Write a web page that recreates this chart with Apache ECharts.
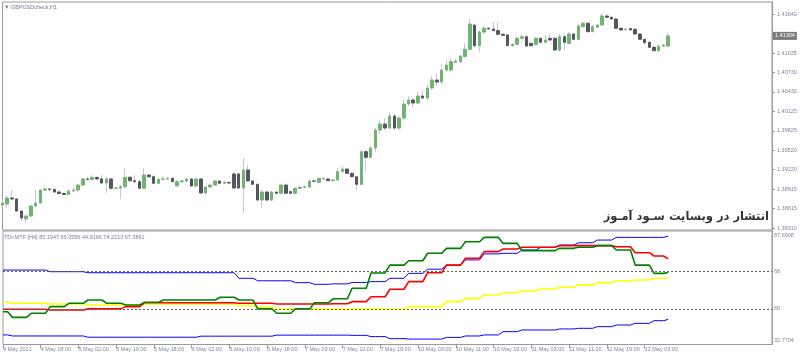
<!DOCTYPE html>
<html><head><meta charset="utf-8">
<script src="https://cdn.jsdelivr.net/npm/echarts@6/dist/echarts.min.js"></script>
<style>html,body{margin:0;padding:0;background:#fff}#c{width:800px;height:356px}</style>
</head><body><div id="c"></div>
<script>
// ---- price candles (H1) ----
const opens = [1.38668,1.38684,1.38778,1.38762,1.38575,1.38451,1.38497,1.38653,1.38700,1.38902,
1.38918,1.38910,1.38871,1.38848,1.38832,1.38887,1.38902,1.38980,1.39074,1.39066,
1.39097,1.39074,1.39011,1.39074,1.38929,1.38933,1.38954,1.39100,1.39047,1.39032,
1.38929,1.39136,1.39109,1.39007,1.39069,1.39074,1.39085,1.38969,1.39032,1.39043,
1.39074,1.38965,1.39074,1.38856,1.38949,1.38980,1.39043,1.39007,1.39019,1.39152,
1.39152,1.38933,1.39214,1.39043,1.38991,1.38746,1.38871,1.38746,1.38871,1.38851,
1.38980,1.38876,1.38851,1.38929,1.38944,1.38949,1.39043,1.39022,1.39074,1.39074,
1.39047,1.39058,1.39187,1.39229,1.39162,1.39109,1.38991,1.39499,1.39412,1.39557,
1.39837,1.39931,1.39868,1.40055,1.39868,1.40024,1.40242,1.40305,1.40258,1.40367,
1.40336,1.40492,1.40616,1.40585,1.40772,1.40772,1.40892,1.40902,1.40979,1.41095,
1.41473,1.41151,1.41364,1.41422,1.41411,1.41385,1.41329,1.41318,1.41151,1.41173,
1.41266,1.41291,1.41188,1.41173,1.41266,1.41204,1.41266,1.41266,1.41084,1.41291,
1.41188,1.41333,1.41251,1.41447,1.41500,1.41369,1.41438,1.41473,1.41614,1.41594,
1.41567,1.41422,1.41403,1.41419,1.41406,1.41333,1.41251,1.41204,1.41126,1.41073,
1.41146,1.41146];
const closes = [1.38700,1.38778,1.38762,1.38575,1.38466,1.38497,1.38653,1.38700,1.38902,1.38918,
1.38910,1.38871,1.38848,1.38832,1.38887,1.38902,1.38980,1.39074,1.39066,1.39097,
1.39074,1.39011,1.39074,1.38929,1.38933,1.38954,1.39100,1.39047,1.39032,1.38929,
1.39136,1.39109,1.39007,1.39069,1.39074,1.39085,1.39032,1.39032,1.39043,1.39074,
1.38965,1.39074,1.38856,1.38949,1.38980,1.39043,1.39007,1.39022,1.39011,1.38933,
1.38933,1.39214,1.39043,1.38991,1.38746,1.38871,1.38746,1.38871,1.38851,1.38980,
1.38851,1.38851,1.38929,1.38944,1.38954,1.39043,1.39040,1.39085,1.39078,1.39047,
1.39058,1.39187,1.39229,1.39162,1.39109,1.38991,1.39499,1.39412,1.39557,1.39837,
1.39931,1.39868,1.40055,1.39868,1.40024,1.40242,1.40305,1.40258,1.40367,1.40336,
1.40492,1.40616,1.40585,1.40772,1.40850,1.40902,1.40912,1.40990,1.41095,1.41489,
1.41151,1.41364,1.41422,1.41411,1.41385,1.41329,1.41313,1.41151,1.41170,1.41266,
1.41291,1.41146,1.41151,1.41266,1.41204,1.41240,1.41240,1.41084,1.41291,1.41204,
1.41333,1.41251,1.41458,1.41500,1.41369,1.41447,1.41473,1.41614,1.41594,1.41567,
1.41422,1.41396,1.41406,1.41396,1.41333,1.41251,1.41198,1.41126,1.41073,1.41146,
1.41162,1.41304];
const highs = [1.38746,1.38824,1.38902,1.38778,1.38590,1.38513,1.38668,1.38902,1.38918,1.38949,
1.38933,1.38933,1.38902,1.38871,1.38918,1.38933,1.38996,1.39089,1.39105,1.39136,
1.39120,1.39136,1.39105,1.39089,1.38949,1.38980,1.39245,1.39120,1.39136,1.39058,
1.39245,1.39152,1.39136,1.39089,1.39120,1.39105,1.39105,1.39058,1.39058,1.39089,
1.39089,1.39089,1.39089,1.38965,1.38996,1.39058,1.39058,1.39043,1.39043,1.39183,
1.39167,1.39401,1.39291,1.39058,1.39011,1.38902,1.38887,1.38887,1.38887,1.38996,
1.38996,1.38887,1.38933,1.38965,1.38965,1.39058,1.39058,1.39089,1.39089,1.39089,
1.39074,1.39245,1.39276,1.39245,1.39183,1.39120,1.39525,1.39525,1.39588,1.39868,
1.39993,1.40024,1.40118,1.40086,1.40055,1.40305,1.40367,1.40336,1.40429,1.40460,
1.40538,1.40679,1.40710,1.40866,1.40928,1.40959,1.40944,1.41006,1.41193,1.41567,
1.41489,1.41396,1.41458,1.41442,1.41520,1.41520,1.41349,1.41333,1.41193,1.41287,
1.41333,1.41318,1.41209,1.41287,1.41287,1.41318,1.41333,1.41287,1.41333,1.41333,
1.41364,1.41349,1.41489,1.41520,1.41520,1.41473,1.41489,1.41660,1.41645,1.41614,
1.41583,1.41442,1.41427,1.41427,1.41427,1.41349,1.41271,1.41224,1.41146,1.41162,
1.41177,1.41349];
const lows = [1.38637,1.38622,1.38746,1.38559,1.38419,1.38388,1.38482,1.38637,1.38684,1.38887,
1.38887,1.38856,1.38840,1.38824,1.38824,1.38863,1.38871,1.38965,1.39058,1.39058,
1.39058,1.38996,1.38856,1.38902,1.38918,1.38762,1.38918,1.39027,1.39011,1.38918,
1.38918,1.39089,1.38996,1.38996,1.39058,1.39066,1.39027,1.38949,1.39011,1.39027,
1.38949,1.38949,1.38840,1.38840,1.38933,1.38965,1.38996,1.38996,1.38996,1.38918,
1.38918,1.38544,1.39027,1.38980,1.38731,1.38622,1.38731,1.38731,1.38840,1.38840,
1.38840,1.38840,1.38840,1.38918,1.38933,1.38933,1.39027,1.39011,1.39058,1.39043,
1.39043,1.39043,1.39183,1.39152,1.39105,1.38902,1.38980,1.39198,1.39401,1.39494,
1.39775,1.39837,1.39837,1.39837,1.39837,1.39993,1.40211,1.40180,1.40242,1.40305,
1.40305,1.40460,1.40522,1.40554,1.40741,1.40741,1.40881,1.40881,1.40975,1.41084,
1.41115,1.41053,1.41333,1.41396,1.41380,1.41318,1.41302,1.41146,1.41138,1.41162,
1.41255,1.41131,1.41146,1.41162,1.41193,1.41193,1.41224,1.41068,1.41053,1.41084,
1.41177,1.41240,1.41240,1.41442,1.41364,1.41364,1.41427,1.41458,1.41583,1.41551,
1.41411,1.41380,1.41388,1.41380,1.41318,1.41240,1.41177,1.41115,1.41061,1.41061,
1.41131,1.41131];

// ---- TDI-MTF [H4] values, one per H4 block (first block = 2 H1 bars, then 4 each) ----
const tdiUpper  = [68.8,68.8,68.8,68.0,68.0,67.5,67.5,67.5,67.5,67.5,67.5,67.5,67.5,64.8,63.6,63.6,62.7,61.9,62.1,62.8,63.2,64.8,67.2,69.2,71.2,73.7,76.6,76.9,78.5,79.8,80.9,82.0,83.3,84.6,84.6,84.6];
const tdiBase   = [53.2,52.7,52.7,52.4,52.4,51.9,51.9,51.9,52.4,52.4,52.4,52.4,52.4,51.5,50.8,50.0,50.0,50.0,49.9,49.9,49.9,49.8,51.1,51.1,53.5,55.1,56.7,57.8,58.8,59.6,60.5,61.6,62.7,63.5,64.0,64.8];
const tdiLower  = [37.4,36.9,36.9,36.9,36.9,36.3,36.3,36.3,36.3,36.3,36.3,36.8,36.8,36.8,36.8,37.3,37.3,37.3,37.3,37.2,36.6,35.6,35.4,35.4,36.2,36.9,37.4,39.0,39.8,39.8,40.3,40.6,41.4,42.2,43.0,44.3];
const tdiSignal = [49.8,49.8,49.8,49.5,49.5,50.0,50.0,51.1,53.0,53.0,53.0,53.0,53.0,52.7,52.7,52.4,52.4,52.4,52.5,53.5,55.9,59.5,63.2,67.5,71.2,74.5,77.7,79.0,79.8,79.8,80.6,80.6,80.6,80.1,77.2,75.6];
const tdiPrice  = [48.6,45.9,47.9,51.1,52.7,54.3,52.7,51.9,53.2,54.3,54.3,54.3,55.6,54.3,50.0,47.9,50.0,53.0,54.9,60.0,67.4,71.2,73.3,76.9,79.3,82.5,84.6,81.7,78.2,78.2,79.3,79.8,80.6,78.5,71.2,67.2];
// current-bar values shown in the indicator header: upper, base, lower, signal, price
const tdiCurrent = [85.1947, 65.0556, 44.9166, 74.2213, 67.5891];
const tdiLevels = [68, 50];

// ---- axes ----
const priceTicks = [1.41640,1.41035,1.40730,1.40430,1.40125,1.39825,1.39520,1.39220,1.38915,1.38615,1.38310];
const tdiTicks = [87.6908, 68, 50, 32.7704];
const timeLabels = ['4 May 2021','4 May 18:00','5 May 02:00','5 May 10:00','5 May 18:00','6 May 02:00','6 May 10:00','6 May 18:00','7 May 03:00','7 May 10:00','7 May 18:00','10 May 03:00','10 May 11:00','10 May 19:00','11 May 03:00','11 May 11:00','11 May 19:00','12 May 03:00'];
const labelEvery = 8;
const slotCount = 164; // bars + right shift space

const nBars = opens.length;
const slots = Array.from({length: slotCount}, (_, i) => String(i));
function expandH4(blocks, current) {
  const out = [];
  for (let i = 0; i < nBars; i++) {
    const k = i < 2 ? 0 : Math.floor((i + 2) / 4);
    out.push(blocks[k]);
  }
  out[nBars - 1] = current;
  return out;
}
const wickData = opens.map((o, i) => [o, closes[i], lows[i], highs[i]]);
const bodyData = opens.map((o, i) => [o, closes[i], Math.min(o, closes[i]), Math.max(o, closes[i])]);
const lastClose = closes[nBars - 1];

const FONT = 'Liberation Sans';
const LBL = '#7f86a0';
const AX = '#9a9a9a';
const tickOk = idx => idx % labelEvery === 0 && idx / labelEvery < timeLabels.length;
const tdiMax = tdiTicks[0], tdiMin = tdiTicks[tdiTicks.length - 1];

const chart = echarts.init(document.getElementById('c'), null, {renderer: 'canvas'});
chart.setOption({
  animation: false,
  backgroundColor: '#ffffff',
  grid: [
    {left: 2.5, right: 28, top: 2, height: 228, show: true, borderColor: AX, borderWidth: 1},
    {left: 2.5, right: 28, top: 231, height: 113.5, show: true, borderColor: AX, borderWidth: 1}
  ],
  xAxis: [
    {type: 'category', gridIndex: 0, data: slots, boundaryGap: false, show: false},
    {type: 'category', gridIndex: 1, data: slots, boundaryGap: false,
     axisLine: {show: false},
     axisTick: {show: true, interval: tickOk, length: 4, lineStyle: {color: AX}},
     axisLabel: {interval: tickOk, align: 'left', margin: 2, fontSize: 5.5, fontFamily: FONT, color: LBL,
       formatter: (v, idx) => timeLabels[idx / labelEvery] || ''}}
  ],
  yAxis: [
    {type: 'value', gridIndex: 0, position: 'right', min: 1.38279, max: 1.41832, splitLine: {show: false},
     axisLine: {show: true, lineStyle: {color: AX}},
     axisTick: {show: true, length: 3, customValues: priceTicks, lineStyle: {color: AX}},
     axisLabel: {customValues: priceTicks, fontSize: 5.5, fontFamily: FONT, color: LBL, margin: 5,
       formatter: v => v.toFixed(5)}},
    {type: 'value', gridIndex: 1, position: 'right', min: tdiMin, max: tdiMax, splitLine: {show: false},
     axisLine: {show: true, lineStyle: {color: AX}},
     axisTick: {show: false},
     axisLabel: {customValues: tdiTicks, fontSize: 5.5, fontFamily: FONT, color: LBL, margin: 2,
       formatter: v => {
         if (Number.isInteger(v)) return String(v);
         const s = v.toFixed(4);
         return v >= tdiMax - 1e-6 ? '{dn|' + s + '}' : '{up|' + s + '}';
       },
       rich: {dn: {padding: [9, 0, 0, 0], fontSize: 5.5, fontFamily: FONT, color: LBL},
              up: {padding: [0, 0, 9, 0], fontSize: 5.5, fontFamily: FONT, color: LBL}}}}
  ],
  series: [
    {type: 'candlestick', xAxisIndex: 0, yAxisIndex: 0, data: wickData, barWidth: 1,
     itemStyle: {color: '#c6c6dc', color0: '#c6c6dc', borderColor: '#c6c6dc', borderColor0: '#c6c6dc', borderWidth: 1}},
    {type: 'candlestick', xAxisIndex: 0, yAxisIndex: 0, data: bodyData, barWidth: 3,
     itemStyle: {color: '#6fb46f', color0: '#55555f', borderColor: '#6fb46f', borderColor0: '#55555f', borderWidth: 1},
     markLine: {silent: true, precision: 5, symbol: ['none', 'none'], lineStyle: {color: 'rgba(0,0,0,0)', width: 1, type: 'solid'},
       label: {show: true, position: 'end', distance: 1, formatter: p => Number(p.value).toFixed(5),
         backgroundColor: '#7a7a7a', color: '#ffffff', fontSize: 5.5, fontFamily: FONT, padding: [1, 2, 1, 2]},
       emphasis: {disabled: true},
       data: [{yAxis: lastClose}]}},
    {type: 'line', xAxisIndex: 1, yAxisIndex: 1, data: expandH4(tdiUpper, tdiCurrent[0]), showSymbol: false,
     lineStyle: {color: '#0000ff', width: 1},
     markLine: {silent: true, symbol: ['none', 'none'], label: {show: false},
       lineStyle: {color: '#606060', width: 1, type: [2, 2]},
       data: tdiLevels.map(v => ({yAxis: v}))}},
    {type: 'line', xAxisIndex: 1, yAxisIndex: 1, data: expandH4(tdiLower, tdiCurrent[2]), showSymbol: false,
     lineStyle: {color: '#0000ff', width: 1}},
    {type: 'line', xAxisIndex: 1, yAxisIndex: 1, data: expandH4(tdiBase, tdiCurrent[1]), showSymbol: false,
     lineStyle: {color: '#ffff00', width: 1.6}},
    {type: 'line', xAxisIndex: 1, yAxisIndex: 1, data: expandH4(tdiSignal, tdiCurrent[3]), showSymbol: false,
     lineStyle: {color: '#ff0000', width: 1.6}},
    {type: 'line', xAxisIndex: 1, yAxisIndex: 1, data: expandH4(tdiPrice, tdiCurrent[4]), showSymbol: false,
     lineStyle: {color: '#008000', width: 1.6}}
  ],
  graphic: [
    {type: 'text', left: 4, top: 4, style: {text: '\u25BC GBPUSDcheck,H1', fontSize: 5.5, fontFamily: FONT, fill: '#7078a0'}},
    {type: 'text', left: 4, top: 234, style: {text: 'TDI-MTF [H4] ' + tdiCurrent.map(v => v.toFixed(4)).join(' '), fontSize: 5.5, fontFamily: FONT, fill: '#7a7f95'}},
    {type: 'text', right: 31, top: 211, style: {text: 'انتشار در وبسایت سـود آمـوز', fontSize: 11.5, fontWeight: 'bold', fontFamily: 'DejaVu Sans', fill: '#333333'}}
  ]
});
</script></body></html>
